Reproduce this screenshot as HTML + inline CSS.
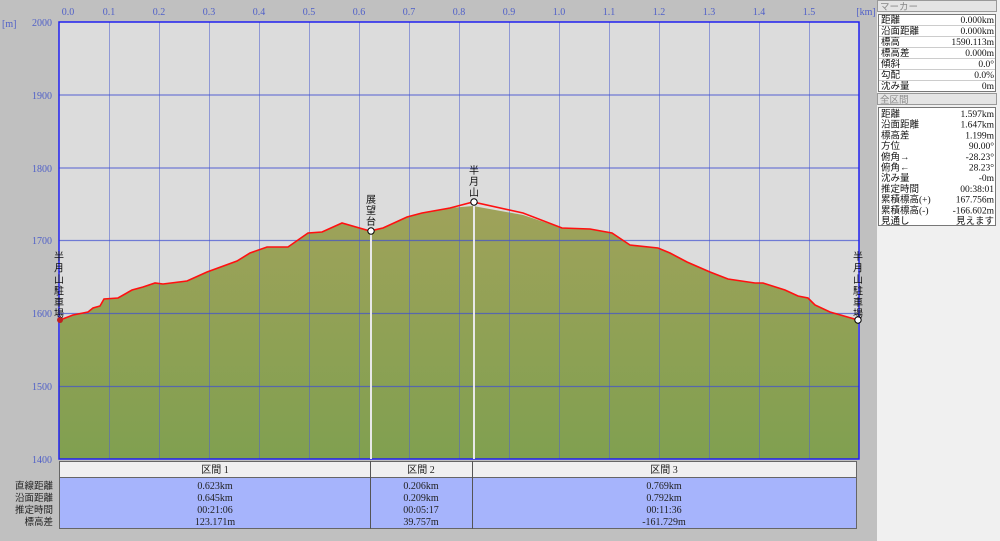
<!DOCTYPE html>
<html><head><meta charset="utf-8"><style>
html,body{margin:0;width:1000px;height:541px;overflow:hidden;background:#c0c0c0;font-family:"Liberation Serif","Noto Sans CJK JP",serif;}
svg{display:block}
svg text{font-family:"Liberation Serif","Noto Sans CJK JP",serif;}
</style></head><body>
<svg width="1000" height="541" xmlns="http://www.w3.org/2000/svg">
<defs><linearGradient id="g" x1="0" y1="0" x2="0" y2="1"><stop offset="0" stop-color="#9fa25a"/><stop offset="1" stop-color="#80a050"/></linearGradient></defs>
<rect x="0" y="0" width="877" height="541" fill="#c0c0c0"/>
<rect x="877" y="0" width="123" height="541" fill="#f0f0f0"/>
<rect x="59" y="22" width="800" height="437" fill="#dcdcdc"/>
<polygon fill="url(#g)" points="59,459 60,320 73,315 88,312 93,308 100,306 104,299 118,298 132,290 143,287 155,283 163,284 187,281 207,272 237,261 250,253 267,247 288,247 308,233 322,232 342,223 370,231 383,228 407,217 422,213 450,208 473,206 523,215 562,228 590,229 612,233 630,245 658,248 670,253 687,262 710,272 728,279 755,283 763,283 785,290 798,296 808,298 815,305 830,312 858,320 859,459"/>
<g stroke="#5060d0" stroke-opacity="0.55" stroke-width="1">
<line x1="109.5" y1="22" x2="109.5" y2="459"/><line x1="159.5" y1="22" x2="159.5" y2="459"/><line x1="209.5" y1="22" x2="209.5" y2="459"/><line x1="259.5" y1="22" x2="259.5" y2="459"/><line x1="309.5" y1="22" x2="309.5" y2="459"/><line x1="359.5" y1="22" x2="359.5" y2="459"/><line x1="409.5" y1="22" x2="409.5" y2="459"/><line x1="459.5" y1="22" x2="459.5" y2="459"/><line x1="509.5" y1="22" x2="509.5" y2="459"/><line x1="559.5" y1="22" x2="559.5" y2="459"/><line x1="609.5" y1="22" x2="609.5" y2="459"/><line x1="659.5" y1="22" x2="659.5" y2="459"/><line x1="709.5" y1="22" x2="709.5" y2="459"/><line x1="759.5" y1="22" x2="759.5" y2="459"/><line x1="809.5" y1="22" x2="809.5" y2="459"/>
</g>
<g stroke="#4050d0" stroke-opacity="0.7" stroke-width="1.3">
<line x1="59" y1="95" x2="859" y2="95"/><line x1="59" y1="168" x2="859" y2="168"/><line x1="59" y1="240.5" x2="859" y2="240.5"/><line x1="59" y1="313.5" x2="859" y2="313.5"/><line x1="59" y1="386.5" x2="859" y2="386.5"/>
</g>
<rect x="59" y="22" width="800" height="437" fill="none" stroke="#2020f0" stroke-width="1.5"/>
<line x1="371" y1="231" x2="371" y2="459" stroke="#e8e8e8" stroke-width="2"/>
<line x1="474" y1="202" x2="474" y2="459" stroke="#e8e8e8" stroke-width="2"/>
<polyline fill="none" stroke="#ff1010" stroke-width="1.6" points="60,320 73,315 88,312 93,308 100,306 104,299 118,298 132,290 143,287 155,283 163,284 187,281 207,272 237,261 250,253 267,247 288,247 308,233 322,232 342,223 370,231 383,228 407,217 422,213 450,208 473,202 523,213 562,228 590,229 612,233 630,245 658,248 670,253 687,262 710,272 728,279 755,283 763,283 785,290 798,296 808,298 815,305 830,312 858,320"/>
<g fill="#fff" stroke="#000" stroke-width="1"><circle cx="371" cy="231" r="3.2"/><circle cx="474" cy="202" r="3.2"/><circle cx="858" cy="320" r="3.2"/></g>
<circle cx="60" cy="320" r="3" fill="#c02020"/>
<g font-size="10" fill="#5060c8">
<text x="68" y="15" text-anchor="middle">0.0</text><text x="109" y="15" text-anchor="middle">0.1</text><text x="159" y="15" text-anchor="middle">0.2</text><text x="209" y="15" text-anchor="middle">0.3</text><text x="259" y="15" text-anchor="middle">0.4</text><text x="309" y="15" text-anchor="middle">0.5</text><text x="359" y="15" text-anchor="middle">0.6</text><text x="409" y="15" text-anchor="middle">0.7</text><text x="459" y="15" text-anchor="middle">0.8</text><text x="509" y="15" text-anchor="middle">0.9</text><text x="559" y="15" text-anchor="middle">1.0</text><text x="609" y="15" text-anchor="middle">1.1</text><text x="659" y="15" text-anchor="middle">1.2</text><text x="709" y="15" text-anchor="middle">1.3</text><text x="759" y="15" text-anchor="middle">1.4</text><text x="809" y="15" text-anchor="middle">1.5</text><text x="866" y="15" text-anchor="middle">[km]</text>
<text x="2" y="27">[m]</text>
<g text-anchor="end"><text x="52" y="26">2000</text><text x="52" y="99">1900</text><text x="52" y="172">1800</text><text x="52" y="244">1700</text><text x="52" y="317">1600</text><text x="52" y="390">1500</text><text x="52" y="463">1400</text></g>
</g>
<g font-size="10" fill="#111" text-anchor="middle" font-family="Noto Sans CJK JP,sans-serif">
<text x="59" y="260">半</text><text x="59" y="271.5">月</text><text x="59" y="283">山</text><text x="59" y="294.5">駐</text><text x="59" y="306">車</text><text x="59" y="317">場</text>
<text x="858" y="260">半</text><text x="858" y="271.5">月</text><text x="858" y="283">山</text><text x="858" y="294.5">駐</text><text x="858" y="306">車</text><text x="858" y="317">場</text>
<text x="371" y="203">展</text><text x="371" y="214">望</text><text x="371" y="225">台</text>
<text x="474" y="174">半</text><text x="474" y="185">月</text><text x="474" y="196">山</text>
</g>
<rect x="59.5" y="461.5" width="797" height="16" fill="#f0f0f0" stroke="#666"/>
<rect x="59.5" y="477.5" width="797" height="51" fill="#a6b4fc" stroke="#666"/>
<line x1="370.5" y1="461" x2="370.5" y2="529" stroke="#555"/>
<line x1="472.5" y1="461" x2="472.5" y2="529" stroke="#555"/>
<g font-size="10" fill="#222" text-anchor="middle">
<text x="215" y="473">区間 1</text><text x="421" y="473">区間 2</text><text x="664" y="473">区間 3</text>
<text x="215" y="489">0.623km</text><text x="215" y="501">0.645km</text><text x="215" y="513">00:21:06</text><text x="215" y="525">123.171m</text>
<text x="421" y="489">0.206km</text><text x="421" y="501">0.209km</text><text x="421" y="513">00:05:17</text><text x="421" y="525">39.757m</text>
<text x="664" y="489">0.769km</text><text x="664" y="501">0.792km</text><text x="664" y="513">00:11:36</text><text x="664" y="525">-161.729m</text>
</g>
<g font-size="9.5" fill="#222" text-anchor="end"><text x="53" y="489">直線距離</text><text x="53" y="501">沿面距離</text><text x="53" y="513">推定時間</text><text x="53" y="525">標高差</text></g>
<rect x="877.5" y="0.5" width="119" height="11" fill="#e4e4e4" stroke="#999"/>
<text x="880" y="10" font-size="9.5" fill="#888">マーカー</text>
<rect x="878.5" y="14.5" width="117" height="77" fill="#fff" stroke="#777"/>
<g font-size="9.5" fill="#111">
<text x="881" y="23">距離</text><text x="994" y="23" text-anchor="end">0.000km</text>
<text x="881" y="34">沿面距離</text><text x="994" y="34" text-anchor="end">0.000km</text>
<text x="881" y="45">標高</text><text x="994" y="45" text-anchor="end">1590.113m</text>
<text x="881" y="56">標高差</text><text x="994" y="56" text-anchor="end">0.000m</text>
<text x="881" y="67">傾斜</text><text x="994" y="67" text-anchor="end">0.0°</text>
<text x="881" y="78">勾配</text><text x="994" y="78" text-anchor="end">0.0%</text>
<text x="881" y="89">沈み量</text><text x="994" y="89" text-anchor="end">0m</text>
</g>
<g stroke="#ccc"><line x1="879" y1="25.5" x2="995" y2="25.5"/><line x1="879" y1="36.5" x2="995" y2="36.5"/><line x1="879" y1="47.5" x2="995" y2="47.5"/><line x1="879" y1="58.5" x2="995" y2="58.5"/><line x1="879" y1="69.5" x2="995" y2="69.5"/><line x1="879" y1="80.5" x2="995" y2="80.5"/></g>
<rect x="877.5" y="93.5" width="119" height="11" fill="#e4e4e4" stroke="#999"/>
<text x="880" y="103" font-size="9.5" fill="#888">全区間</text>
<rect x="878.5" y="107.5" width="117" height="118" fill="#fff" stroke="#777"/>
<g font-size="9.5" fill="#111">
<text x="881" y="117">距離</text><text x="994" y="117" text-anchor="end">1.597km</text>
<text x="881" y="127.7">沿面距離</text><text x="994" y="127.7" text-anchor="end">1.647km</text>
<text x="881" y="138.4">標高差</text><text x="994" y="138.4" text-anchor="end">1.199m</text>
<text x="881" y="149.1">方位</text><text x="994" y="149.1" text-anchor="end">90.00°</text>
<text x="881" y="159.8">俯角→</text><text x="994" y="159.8" text-anchor="end">-28.23°</text>
<text x="881" y="170.5">俯角←</text><text x="994" y="170.5" text-anchor="end">28.23°</text>
<text x="881" y="181.2">沈み量</text><text x="994" y="181.2" text-anchor="end">-0m</text>
<text x="881" y="191.9">推定時間</text><text x="994" y="191.9" text-anchor="end">00:38:01</text>
<text x="881" y="202.6">累積標高(+)</text><text x="994" y="202.6" text-anchor="end">167.756m</text>
<text x="881" y="213.3">累積標高(-)</text><text x="994" y="213.3" text-anchor="end">-166.602m</text>
<text x="881" y="224">見通し</text><text x="994" y="224" text-anchor="end">見えます</text>
</g>
</svg>
</body></html>
